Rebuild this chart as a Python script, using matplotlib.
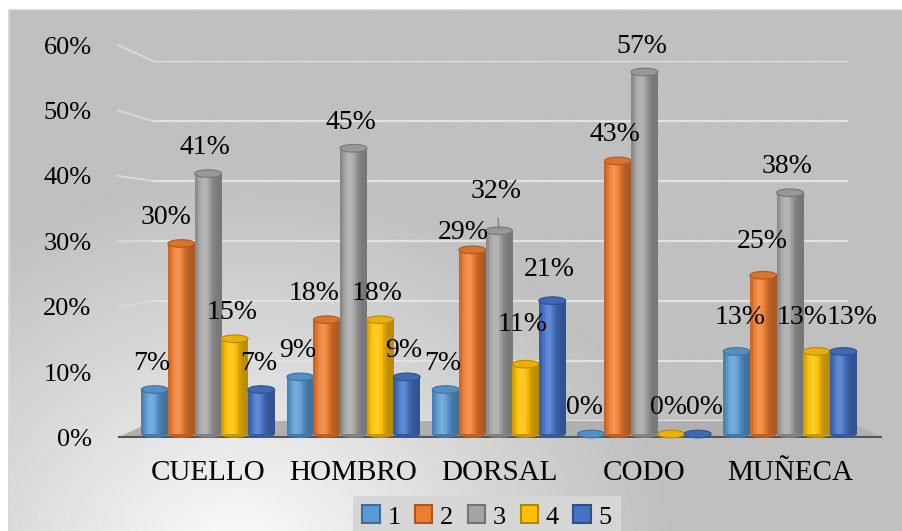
import matplotlib
matplotlib.use("Agg")
import matplotlib.pyplot as plt
import numpy as np
from matplotlib.colors import to_rgb
from matplotlib.patches import Ellipse, Patch, Polygon, Rectangle

categories = ["CUELLO", "HOMBRO", "DORSAL", "CODO", "MUÑECA"]
series_names = ["1", "2", "3", "4", "5"]
s1 = [7, 9, 7, 0, 13]
s2 = [30, 18, 29, 43, 25]
s3 = [41, 45, 32, 57, 38]
s4 = [15, 18, 11, 0, 13]
s5 = [7, 9, 21, 0, 13]
y_ticks = [0, 10, 20, 30, 40, 50, 60]

colors = ["#5B9BD5", "#ED7D31", "#A5A5A5", "#FFC000", "#4472C4"]
SERIF = "Liberation Serif"
W, H = 903, 531

# label offsets in pixels where the default spot collides
LABEL_NUDGE = {(0, 1): (-12, 0), (1, 1): (-10, 0), (2, 1): (-6, -9),
               (2, 2): (0, 13), (2, 3): (0, 14), (2, 4): (0, 5),
               (4, 0): (6, 8), (4, 1): (2, 8), (4, 3): (-12, 8),
               (4, 4): (12, 8), (3, 4): (10, 0), (3, 0): (-4, 0)}


def px_rect(left, top, right, bottom):
    return [left / W, 1 - bottom / H, (right - left) / W, (bottom - top) / H]


def shade(rgb, s):
    rgb = np.array(rgb)
    if s >= 1:
        return tuple(rgb + (1 - rgb) * (s - 1))
    return tuple(rgb * s)


def cylinder(ax, x, h, w, color, z):
    base = to_rgb(color)
    n = 18
    cap_h = 1.2
    edges = np.linspace(x - w / 2, x + w / 2, n + 1)
    ax.add_patch(Ellipse((x, 0), w, cap_h, facecolor=shade(base, 0.78),
                         edgecolor="none", zorder=z))
    if h > 0:
        for i in range(n):
            t = (i + 0.5) / n
            s = 0.72 + 0.45 * np.exp(-((t - 0.36) / 0.27) ** 2)
            ax.bar(edges[i], h, width=w / n * 1.08, align="edge",
                   color=shade(base, s), linewidth=0, zorder=z)
    ax.add_patch(Ellipse((x, h), w, cap_h, facecolor=shade(base, 0.92),
                         edgecolor=shade(base, 0.72), linewidth=0.8,
                         zorder=z + 0.1))


fig = plt.figure(figsize=(W / 100, H / 100), dpi=100)

# background with soft gradient
bg = fig.add_axes([0, 0, 1, 1], zorder=-5)
bg.set_xlim(0, W)
bg.set_ylim(H, 0)
bg.axis("off")
yy, xx = np.mgrid[0:H, 0:W]
d = np.hypot(xx - 230, (yy - 570) * 1.1)
light = 192 + 62 * np.clip(1 - d / 440, 0, 1) ** 1.1
bg.imshow(light / 255, cmap="gray", vmin=0, vmax=1, extent=(10, W, H, 10),
          interpolation="bilinear", aspect="auto")
bg.add_patch(Rectangle((9.5, 9.5), W, H, fill=False, edgecolor="#cfcfcf",
                       linewidth=1.2))

# side wall (tick labels) and back wall (grid)
side = fig.add_axes(px_rect(118, 45, 882, 437.5))
side.set_xlim(0, 1)
side.set_ylim(0, 60)
side.patch.set_alpha(0)
for sp in side.spines.values():
    sp.set_visible(False)
side.set_xticks([])
side.set_yticks(y_ticks)
side.set_yticklabels([f"{t}%" for t in y_ticks], fontsize=19, family=SERIF)
side.tick_params(axis="y", length=0, pad=19)
side.axhline(0, color="#555555", linewidth=3, zorder=5)

wall = fig.add_axes(px_rect(153, 61, 848, 421))
wall.set_xlim(0, 1)
wall.set_ylim(0, 60)
wall.axis("off")
for t in y_ticks:
    wall.axhline(t, color="#e2e2e2", linewidth=1.6)


def to_bg(a, xy):
    return bg.transData.inverted().transform(a.transData.transform(xy))


floor = [to_bg(side, (0, 0)), to_bg(wall, (0, 0)),
         to_bg(wall, (1, 0)), to_bg(side, (1, 0))]
bg.add_patch(Polygon(floor, closed=True, facecolor="#b0b0b0",
                     edgecolor="none"))
for t in y_ticks[1:]:
    a, b = to_bg(side, (0, t)), to_bg(wall, (0, t))
    bg.plot([a[0], b[0]], [a[1], b[1]], color="#d8d8d8", linewidth=1.4)

# bars
ax = fig.add_axes(px_rect(118, 30, 882, 445))
ax.set_xlim((118 - 208) / 145.5, (882 - 208) / 145.5)
ax.set_ylim((434 - 445) / 6.35, (434 - 30) / 6.35)
ax.patch.set_alpha(0)
for sp in ax.spines.values():
    sp.set_visible(False)
ax.set_yticks([])
ax.set_xticks(range(len(categories)))
ax.set_xticklabels(categories, fontsize=21, family=SERIF)
ax.tick_params(axis="x", length=0, pad=11)

series = [s1, s2, s3, s4, s5]
bw = 0.183
x = np.arange(len(categories))
for j, vals in enumerate(series):
    xs = x + (j - 2) * bw
    for i, v in enumerate(vals):
        cylinder(ax, xs[i], v, bw * 1.01, colors[j], 3 + j * 0.3)
        dx, dy = LABEL_NUDGE.get((i, j), (0, 0))
        lead = dy >= 12 and j == 2
        ax.annotate(f"{v}%", (xs[i], v), xytext=((-3 + dx) * 0.72, (26 + dy) * 0.72),
                    textcoords="offset points", ha="center", va="center",
                    fontsize=20, family=SERIF, color="black", zorder=10,
                    arrowprops=dict(arrowstyle="-", color="#7f7f7f", lw=1,
                                    shrinkA=8, shrinkB=1) if lead else None)

handles = [Patch(facecolor=c, edgecolor=shade(to_rgb(c), 0.7), linewidth=1.5)
           for c in colors]
leg = fig.legend(handles, series_names, loc="center",
                 bbox_to_anchor=(487 / W, 1 - 517 / H), ncol=5,
                 frameon=True, facecolor="#d6d6d6", edgecolor="none",
                 fancybox=False, framealpha=1, prop={"family": SERIF, "size": 19},
                 handlelength=0.65, handleheight=0.65, handletextpad=0.3,
                 columnspacing=0.55, borderpad=0.35)

fig.savefig("out.png", dpi=100)
